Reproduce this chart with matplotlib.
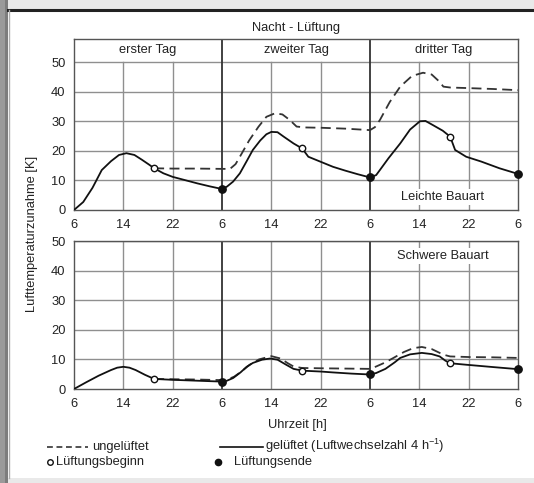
import matplotlib
matplotlib.use("Agg")
import matplotlib.pyplot as plt
from matplotlib.patches import Rectangle
from matplotlib.lines import Line2D
import numpy as np

plt.rcParams['font.family'] = ['Liberation Sans', 'DejaVu Sans']
plt.rcParams['mathtext.fontset'] = 'custom'
plt.rcParams['mathtext.rm'] = 'Liberation Sans'
plt.rcParams['mathtext.it'] = 'Liberation Sans'

# ---------------- data (hours since 6:00 of day 1) ----------------
title = "Nacht - Lüftung"
day_labels = ["erster Tag", "zweiter Tag", "dritter Tag"]
tick_pos = [0, 8, 16, 24, 32, 40, 48, 56, 64, 72]
tick_labels = ["6", "14", "22", "6", "14", "22", "6", "14", "22", "6"]
ytick_vals = [0, 10, 20, 30, 40, 50]

# Leichte Bauart
light_vent_h = [0, 1.5, 3, 4.5, 6, 7.3, 8.5, 9.8, 11, 12.2, 13, 14.5, 16, 18, 20, 22, 24,
                24.8, 25.8, 26.9, 28, 29, 30.2, 31.2, 32, 33, 34, 35.6, 37,
                38, 40, 42, 44, 46, 48,
                49, 49.6, 51, 52.9, 54.5, 56.1, 57, 58.2, 59.8, 61,
                61.8, 63.6, 66, 69, 72]
light_vent_v = [0, 2.7, 7.5, 13.5, 16.5, 18.6, 19.2, 18.6, 17.0, 15.3, 14.1, 12.4, 11.2, 10.1, 9.0, 8.0, 7.1,
                7.9, 9.6, 12.4, 16.5, 20.3, 23.5, 25.6, 26.4, 26.3, 24.8, 22.5, 20.8,
                18.0, 16.3, 14.6, 13.3, 12.1, 11.0,
                11.8, 13.5, 17.5, 22.5, 27.2, 30.0, 30.1, 28.7, 26.8, 24.8,
                20.3, 18.0, 16.4, 14.1, 12.2]

light_unvent_h = [13, 16, 20, 24, 25.3, 26.2, 26.9, 28.4, 29.9, 31.2, 32.6, 33.8, 35, 36.1, 37.5,
                  40, 44, 48, 48.8, 49.6, 51.2, 52.9, 54.8, 56.6, 58, 59.2, 59.9, 61, 64, 68, 72]
light_unvent_v = [14.1, 14.0, 14.0, 13.9, 13.9, 15.5, 18.0, 23.5, 28.1, 31.5, 32.7, 32.3, 30.4, 28.2, 27.9,
                  27.8, 27.5, 27.0, 28.0, 30.4, 36.5, 41.7, 45.3, 46.4, 45.8, 43.5, 41.7, 41.4, 41.2, 40.9, 40.5]

# Schwere Bauart
heavy_vent_h = [0, 2, 4, 6, 7, 8, 9, 10, 11.5, 13, 16, 20, 24,
                24.8, 25.8, 27, 28, 29, 30.5, 31.8, 33, 34.4, 35.6, 37,
                40, 42, 45, 48,
                49, 50.5, 52, 52.9, 54.5, 56.4, 58, 59.3, 60.2, 61, 63.6, 68, 72]
heavy_vent_v = [0, 2.3, 4.5, 6.4, 7.2, 7.5, 7.2, 6.4, 4.8, 3.4, 3.1, 2.8, 2.5,
                2.8, 3.7, 5.6, 7.5, 8.8, 9.9, 10.3, 9.9, 8.2, 6.8, 6.2,
                5.9, 5.6, 5.2, 4.9,
                5.4, 6.8, 9.0, 10.5, 11.7, 12.2, 11.8, 11.0, 9.6, 8.7, 8.2, 7.4, 6.7]

heavy_unvent_h = [13, 16, 20, 24, 25, 26, 27.2, 28.5, 30, 32, 33.5, 34.6, 35.6, 37, 40, 44, 48,
                  49, 50.5, 51.8, 53.5, 55, 56.4, 58, 59.9, 61, 64, 68, 72]
heavy_unvent_v = [3.4, 3.3, 3.2, 3.0, 3.3, 4.2, 6.0, 8.2, 10.0, 11.1, 10.3, 8.8, 7.6, 7.1, 7.0, 6.9, 6.8,
                  7.6, 9.0, 10.5, 12.5, 13.8, 14.2, 13.5, 11.6, 11.0, 10.8, 10.7, 10.5]

# ventilation start (open) / end (filled) markers
light_start_h = [13, 37, 61]
light_start_v = [14.1, 20.8, 24.8]
light_end_h = [24, 48, 72]
light_end_v = [7.1, 11.0, 12.2]
heavy_start_h = [13, 37, 61]
heavy_start_v = [3.4, 6.2, 8.7]
heavy_end_h = [24, 48, 72]
heavy_end_v = [2.5, 4.9, 6.7]

legend_unvent = "ungelüftet"
legend_vent = "gelüftet (Luftwechselzahl 4 h$^{-1}$)"
legend_start = "Lüftungsbeginn"
legend_end = "Lüftungsende"

# ---------------- figure ----------------
W, H = 534, 483
fig = plt.figure(figsize=(W / 100, H / 100), dpi=100)
fig.patch.set_facecolor('#e9e9e9')

def fx(px):
    return px / W

def fy(py):
    return 1 - py / H

# left dark strip and white panel
fig.patches.append(Rectangle((0, 0), fx(8), 1, transform=fig.transFigure,
                             facecolor='#9a9a9a', edgecolor='none', zorder=-10))
fig.patches.append(Rectangle((fx(5), 0), fx(3), 1, transform=fig.transFigure,
                             facecolor='#7d7d7d', edgecolor='none', zorder=-9))
fig.patches.append(Rectangle((fx(8), fy(478)), fx(526), fy(9) - fy(478),
                             transform=fig.transFigure, facecolor='white',
                             edgecolor='none', zorder=-8))
fig.lines.append(Line2D([fx(8), 1], [fy(9.5), fy(9.5)], transform=fig.transFigure,
                        color='#222222', lw=2.2, zorder=-7))
fig.lines.append(Line2D([fx(8.5), fx(8.5)], [fy(478), fy(9.5)], transform=fig.transFigure,
                        color='#b0b0b0', lw=1.0, zorder=-7))

left, right = 74, 518
ax1 = fig.add_axes([fx(left), fy(210), fx(right - left), fy(39) - fy(210)])
ax2 = fig.add_axes([fx(left), fy(389), fx(right - left), fy(241) - fy(389)])

fs = 9.3
grid_c = '#8f8f8f'
dash = (0, (5.5, 3))

def style(ax, ymax, header):
    ax.set_xlim(0, 72)
    ax.set_ylim(0, ymax)
    ax.set_facecolor('white')
    for s in ax.spines.values():
        s.set_color('#555555')
        s.set_linewidth(1.0)
    ax.set_xticks(tick_pos)
    ax.set_xticklabels(tick_labels, fontsize=fs, color='#222222')
    ax.set_yticks(ytick_vals)
    ax.set_yticklabels([str(v) for v in ytick_vals], fontsize=fs, color='#222222')
    ax.tick_params(axis='x', length=0, pad=6.5)
    ax.tick_params(axis='y', length=0, pad=6)
    # grid
    for v in ytick_vals[1:]:
        ax.axhline(v, color=grid_c, lw=1.0, zorder=1)
    for xp in tick_pos:
        if xp in (0, 72):
            continue
        if xp % 24 == 0:
            ax.axvline(xp, color='#333333', lw=1.3, zorder=2)
        else:
            ax.plot([xp, xp], [0, 50], color=grid_c, lw=1.0, zorder=1)
    if header:
        for i, lab in enumerate(day_labels):
            ax.text(12 + 24 * i, (50 + ymax) / 2 + 0.3, lab, ha='center', va='center',
                    fontsize=fs, color='#222222')

style(ax1, 57.8, True)
style(ax2, 50, False)

ax1.plot(light_unvent_h, light_unvent_v, color='#333333', lw=1.3, ls=dash, zorder=3)
ax1.plot(light_vent_h, light_vent_v, color='#111111', lw=1.3, zorder=4)
ax1.plot(light_start_h, light_start_v, 'o', ms=4.6, mfc='white', mec='#111111', mew=1.0, zorder=5)
ax1.plot(light_end_h, light_end_v, 'o', ms=5.3, color='#111111', zorder=5, clip_on=False)

ax2.plot(heavy_unvent_h, heavy_unvent_v, color='#333333', lw=1.3, ls=dash, zorder=3)
ax2.plot(heavy_vent_h, heavy_vent_v, color='#111111', lw=1.3, zorder=4)
ax2.plot(heavy_start_h, heavy_start_v, 'o', ms=4.6, mfc='white', mec='#111111', mew=1.0, zorder=5)
ax2.plot(heavy_end_h, heavy_end_v, 'o', ms=5.3, color='#111111', zorder=5, clip_on=False)

ax1.text(0.831, 0.075, "Leichte Bauart", transform=ax1.transAxes, ha='center', va='center',
         fontsize=fs, color='#222222',
         bbox=dict(facecolor='white', edgecolor='none', pad=1.5))
ax2.text(0.831, 0.90, "Schwere Bauart", transform=ax2.transAxes, ha='center', va='center',
         fontsize=fs, color='#222222',
         bbox=dict(facecolor='white', edgecolor='none', pad=1.5))

fig.text(fx(296), fy(28), title, ha='center', va='center', fontsize=fs, color='#222222')
fig.text(fx(297), fy(425), "Uhrzeit [h]", ha='center', va='center', fontsize=fs, color='#222222')
fig.text(fx(32), fy(234), "Lufttemperaturzunahme [K]", rotation=90, ha='center', va='center',
         fontsize=fs, color='#222222')

# legend drawn on figure
fig.lines.append(Line2D([fx(47), fx(88)], [fy(447), fy(447)], transform=fig.transFigure,
                        color='#333333', lw=1.2, ls=(0, (3.5, 2.2))))
fig.text(fx(92), fy(447), legend_unvent, ha='left', va='center', fontsize=fs, color='#222222')
fig.lines.append(Line2D([fx(220), fx(263)], [fy(447), fy(447)], transform=fig.transFigure,
                        color='#111111', lw=1.2))
fig.text(fx(265), fy(446), legend_vent, ha='left', va='center', fontsize=fs, color='#222222')
fig.lines.append(Line2D([fx(50)], [fy(462)], transform=fig.transFigure, marker='o', ms=4,
                        mfc='white', mec='#111111', mew=1.0, ls='none'))
fig.text(fx(56), fy(462), legend_start, ha='left', va='center', fontsize=fs, color='#222222')
fig.lines.append(Line2D([fx(218)], [fy(462)], transform=fig.transFigure, marker='o', ms=4.5,
                        color='#111111', ls='none'))
fig.text(fx(234), fy(462), legend_end, ha='left', va='center', fontsize=fs, color='#222222')

fig.savefig("out.png", dpi=100, facecolor=fig.get_facecolor())
